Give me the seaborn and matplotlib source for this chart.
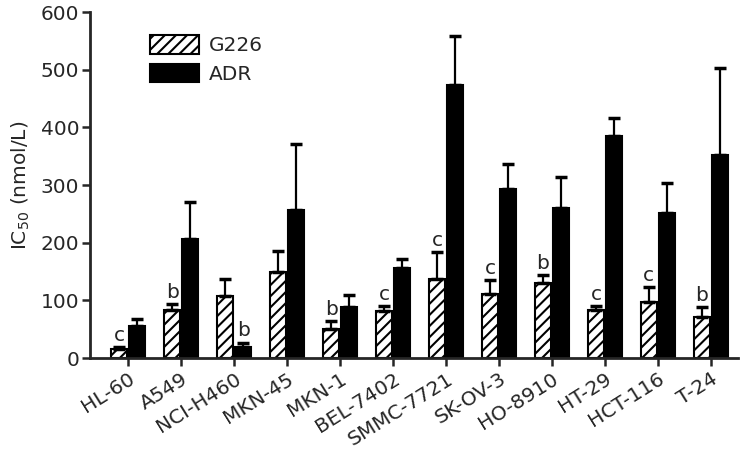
import numpy as np
import pandas as pd
import matplotlib
matplotlib.use("Agg")
import matplotlib.pyplot as plt
import seaborn as sns

cell_lines = ["HL-60", "A549", "NCI-H460", "MKN-45", "MKN-1", "BEL-7402",
              "SMMC-7721", "SK-OV-3", "HO-8910", "HT-29", "HCT-116", "T-24"]
g226_mean = [15, 84, 107, 149, 51, 81, 138, 112, 130, 84, 98, 72]
g226_err = [4, 10, 31, 36, 13, 9, 46, 23, 14, 6, 25, 16]
adr_mean = [56, 206, 19, 257, 89, 156, 474, 293, 260, 386, 252, 353]
adr_err = [12, 65, 8, 114, 20, 16, 85, 44, 54, 31, 52, 151]
g226_marks = ["c", "b", "", "", "b", "c", "c", "c", "b", "c", "c", "b"]
adr_marks = ["", "", "b", "", "", "", "", "", "", "", "", ""]

df = pd.concat([
    pd.DataFrame({"cell": cell_lines, "drug": "G226", "ic50": g226_mean}),
    pd.DataFrame({"cell": cell_lines, "drug": "ADR", "ic50": adr_mean}),
])

sns.set_style("ticks")
plt.rcParams['font.family'] = ['DejaVu Sans']
plt.rcParams['hatch.linewidth'] = 1.5
fs = 14.5

fig = plt.figure(figsize=(7.46, 4.51), dpi=100)
ax = fig.add_axes([0.121, 0.206, 0.868, 0.767])

sns.barplot(data=df, x="cell", y="ic50", hue="drug", order=cell_lines,
            hue_order=["G226", "ADR"], palette={"G226": "white", "ADR": "black"},
            width=0.68, gap=0.1, edgecolor="black", linewidth=1.5, ax=ax)

n = len(cell_lines)
bars = ax.patches[:2 * n]
for p in bars[:n]:
    p.set_hatch("///")

# error bars (upper only) and significance letters
for group, (means, errs, marks) in enumerate([(g226_mean, g226_err, g226_marks),
                                              (adr_mean, adr_err, adr_marks)]):
    for i in range(n):
        p = bars[group * n + i]
        xc = p.get_x() + p.get_width() / 2
        ax.errorbar(xc, means[i], yerr=[[0], [errs[i]]], fmt="none",
                    ecolor="black", elinewidth=1.6, capsize=4, capthick=2.5)
        if marks[i]:
            ax.text(xc, means[i] + errs[i] + 4, marks[i], ha="center",
                    va="bottom", fontsize=fs)

ax.set_ylim(0, 600)
ax.set_xlim(-0.72, n - 0.49)
ax.set_yticks([0, 100, 200, 300, 400, 500, 600])
ax.set_xlabel("")
ax.set_ylabel("IC$_{50}$ (nmol/L)", fontsize=fs, labelpad=6)
ax.tick_params(axis="both", labelsize=fs, width=1.8, length=6, direction="out", pad=2)
plt.setp(ax.get_xticklabels(), rotation=32, ha="right", rotation_mode="anchor")
sns.despine(ax=ax)
for s in ["left", "bottom"]:
    ax.spines[s].set_linewidth(2)

leg = ax.legend(loc="upper left", bbox_to_anchor=(0.065, 0.985), frameon=False,
                fontsize=fs, handlelength=2.4, handleheight=1.0,
                labelspacing=0.45, handletextpad=0.5, title=None)
for h in leg.legend_handles:
    h.set_edgecolor("black")
    h.set_linewidth(1.5)
leg.legend_handles[0].set_hatch("///")

fig.savefig("out.png", dpi=100)
